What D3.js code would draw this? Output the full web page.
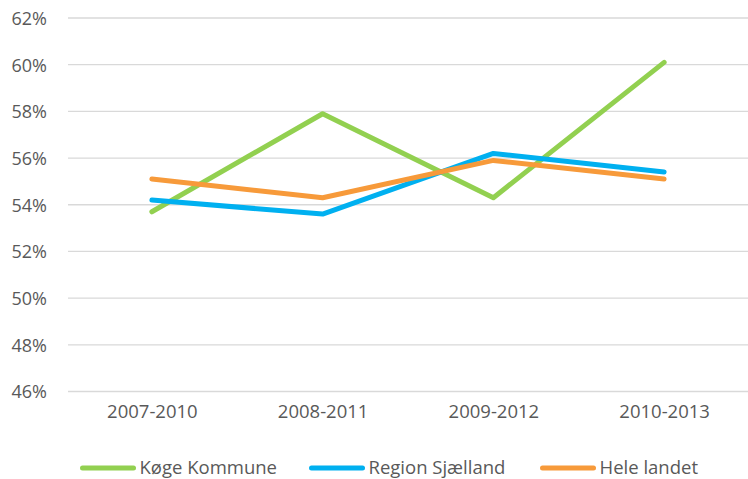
<!DOCTYPE html>
<html><head><meta charset="utf-8">
<script src="https://cdn.jsdelivr.net/npm/d3@7"></script>
<style>
html,body{margin:0;padding:0;background:#fff;}
svg{display:block;}
text{font-family:"Open Sans",sans-serif;fill:#595959;}
</style></head>
<body>
<svg id="chart" width="748" height="479"></svg>
<script>
const categories = ["2007-2010","2008-2011","2009-2012","2010-2013"];
const seriesNames = ["Køge Kommune","Region Sjælland","Hele landet"];
const koge   = [53.7, 57.9, 54.3, 60.1];
const region = [54.2, 53.6, 56.2, 55.4];
const hele   = [55.1, 54.3, 55.9, 55.1];
const yTicks = [46,48,50,52,54,56,58,60,62];
const colors = ["#92d050","#00b0f0","#f79a3a"];

const series = [koge, region, hele].map((v,i)=>({name:seriesNames[i], values:v, color:colors[i]}));

const svg = d3.select("#chart");
const plot = {left:66.5, right:749.5, top:18, bottom:391.5};

const x = d3.scalePoint().domain(categories).range([plot.left, plot.right]).padding(0.5);
const y = d3.scaleLinear().domain([46,62]).range([plot.bottom, plot.top]);

// gridlines
svg.append("g").selectAll("line").data(yTicks).join("line")
  .attr("x1", 68).attr("x2", 748)
  .attr("y1", d=>y(d)).attr("y2", d=>y(d))
  .attr("stroke","#d9d9d9").attr("stroke-width",1.3);

// y axis labels
const yAxis = d3.axisLeft(y).tickValues(yTicks).tickFormat(d=>d+"%").tickSize(0).tickPadding(0);
const gy = svg.append("g").attr("transform","translate(47,0)").call(yAxis);
gy.select(".domain").remove();
gy.selectAll("text").attr("font-size","18px").attr("fill","#595959")
  .attr("font-family","'Open Sans',sans-serif").attr("dy","0.35em");

// x axis labels
const xAxis = d3.axisBottom(x).tickSize(0).tickPadding(0);
const gx = svg.append("g").attr("transform","translate(0,412)").call(xAxis);
gx.select(".domain").remove();
gx.selectAll("text").attr("font-size","18.5px").attr("fill","#595959")
  .attr("font-family","'Open Sans',sans-serif").attr("dy","0.35em");

// lines
const line = d3.line().x((d,i)=>x(categories[i])).y(d=>y(d));
svg.append("g").selectAll("path").data(series).join("path")
  .attr("d", d=>line(d.values))
  .attr("fill","none").attr("stroke", d=>d.color)
  .attr("stroke-width",5).attr("stroke-linecap","round").attr("stroke-linejoin","round");

// legend
const legendX = [80, 309, 540];
const lg = svg.append("g").selectAll("g").data(series).join("g")
  .attr("transform",(d,i)=>`translate(${legendX[i]},0)`);
lg.append("line").attr("x1",2.5).attr("x2",53.5).attr("y1",468).attr("y2",468)
  .attr("stroke",d=>d.color).attr("stroke-width",5).attr("stroke-linecap","round");
lg.append("text").attr("x",59.5).attr("y",474.3)
  .attr("font-size","18.5px")
  .text(d=>d.name);
</script>
</body></html>
